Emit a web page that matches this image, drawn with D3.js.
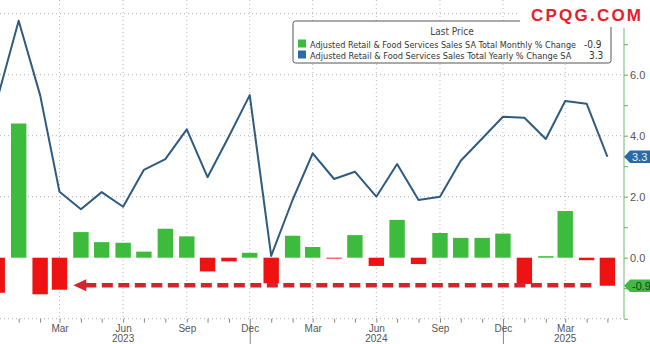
<!DOCTYPE html>
<html><head><meta charset="utf-8">
<script src="https://cdn.jsdelivr.net/npm/d3@7"></script>
<style>body{margin:0;background:#fff;} svg{display:block;font-family:"Liberation Sans",Arial,sans-serif;}</style>
</head><body><svg id="c" width="650" height="344"></svg>
<script>
// ---- data ----
const months = ["2022-12","2023-01","2023-02","2023-03","2023-04","2023-05","2023-06","2023-07","2023-08","2023-09","2023-10","2023-11","2023-12",
  "2024-01","2024-02","2024-03","2024-04","2024-05","2024-06","2024-07","2024-08","2024-09","2024-10","2024-11","2024-12",
  "2025-01","2025-02","2025-03","2025-04","2025-05"];
const monthlyChange = [-1.15,4.4,-1.2,-1.05,0.84,0.51,0.49,0.2,0.95,0.7,-0.45,-0.12,0.16,
  -0.84,0.72,0.35,-0.03,0.74,-0.27,1.24,-0.21,0.81,0.65,0.65,0.79,
  -0.86,0.05,1.53,-0.08,-0.92];
const yearlyChange = [5.2,7.77,5.33,2.16,1.59,2.15,1.67,2.88,3.23,4.21,2.64,3.98,5.33,
  0.06,1.9,3.42,2.58,2.82,2.0,3.07,1.89,2.0,3.18,3.91,4.62,
  4.59,3.89,5.14,5.05,3.31];
const seriesNames = ["Adjusted Retail & Food Services Sales SA Total Monthly % Change",
                     "Adjusted Retail & Food Services Sales Total Yearly % Change SA"];
const lastValues = ["-0.9","3.3"];
const yTickValues = [-2,0,2,4,6,8];
const yTickLabels = ["","0.0","2.0","4.0","6.0",""];
const yearLabels = [["2023-06","2023"],["2024-06","2024"],["2025-03","2025"]];
const arrow = {from:"2023-03-21", to:"2025-04-15", level:-0.9};

// ---- layout ----
const svg = d3.select("#c");
const W = 650, H = 344, plotR = 624, plotB = 318.7;
const parse = d3.timeParse("%Y-%m");
const parseD = d3.timeParse("%Y-%m-%d");
const dates = months.map(parse);
const x = d3.scaleTime().domain([new Date(2022,11,5), new Date(2025,4,25)]).range([0, plotR]);
const y = d3.scaleLinear().domain([-2, 8]).range([plotB, 13.7]);

const green = "#3dbb3d", red = "#ee1212", blue = "#2f5b7f";

svg.append("defs").append("clipPath").attr("id","clip")
  .append("rect").attr("x",0).attr("y",0).attr("width",plotR).attr("height",plotB);

// gridlines
const quarterTicks = x.ticks(d3.timeMonth.every(1)).filter(d => d.getMonth() % 3 === 2);
svg.append("g").selectAll("line").data(quarterTicks).join("line")
  .attr("x1", d => x(d)).attr("x2", d => x(d)).attr("y1", 0).attr("y2", plotB)
  .attr("stroke","#b8b8b8").attr("stroke-dasharray","1,3");
svg.append("g").selectAll("line").data(yTickValues.filter(v => v !== 0)).join("line")
  .attr("x1",0).attr("x2",plotR).attr("y1", d => y(d)).attr("y2", d => y(d))
  .attr("stroke","#b0b0b0").attr("stroke-dasharray","1,3");

// x axis
const xAxis = d3.axisBottom(x).ticks(d3.timeMonth.every(1)).tickSize(4)
  .tickFormat(d => d.getMonth() % 3 === 2 ? d3.timeFormat("%b")(d) : "");
const gx = svg.append("g").attr("transform", `translate(0,${plotB})`).call(xAxis);
gx.select(".domain").remove();
gx.selectAll(".tick line").attr("stroke","#888");
gx.selectAll(".tick text").attr("fill","#555").attr("font-size","10px").attr("dy","0.6em")
  .attr("font-family","Liberation Sans, Arial, sans-serif");
// year separators
gx.selectAll(".tick").filter(d => d.getMonth() === 11).select("line").attr("y2", H - plotB);
svg.append("g").selectAll("text").data(yearLabels).join("text")
  .attr("x", d => x(parse(d[0]))).attr("y", 342).attr("text-anchor","middle")
  .attr("font-size","10px").attr("fill","#555").text(d => d[1]);

// bars
const g = svg.append("g").attr("clip-path","url(#clip)");
const bw = 15.4;
g.selectAll("rect.bar").data(monthlyChange).join("rect").attr("class","bar")
  .attr("x", (d,i) => x(dates[i]) - bw/2).attr("width", bw)
  .attr("y", d => y(Math.max(0,d))).attr("height", d => Math.abs(y(d) - y(0)))
  .attr("fill", d => d >= 0 ? green : red);

// arrow annotation
const ay = y(arrow.level);
const ax0 = x(parseD(arrow.from)), ax1 = x(parseD(arrow.to));
g.append("line").attr("x1", ax0 + 12).attr("x2", ax1).attr("y1", ay).attr("y2", ay)
  .attr("stroke","#d3232b").attr("stroke-width",4.5).attr("stroke-dasharray","11,5.5");
g.append("path").attr("d", `M${ax0},${ay} L${ax0+13},${ay-6} L${ax0+13},${ay+6} Z`).attr("fill","#d3232b");

// line
g.append("path").datum(yearlyChange)
  .attr("d", d3.line().x((d,i) => x(dates[i])).y(d => y(d)))
  .attr("fill","none").attr("stroke", blue).attr("stroke-width",2).attr("stroke-linejoin","round");

// right axis
const yAxis = d3.axisRight(y).tickValues(d3.range(-2, 8.01, 1)).tickSize(4)
  .tickFormat(d => { const k = yTickValues.indexOf(d); return k >= 0 ? yTickLabels[k] : ""; });
const gy = svg.append("g").attr("transform", `translate(${plotR},0)`).call(yAxis);
gy.select(".domain").attr("stroke","#9fd19f").attr("stroke-width",1.5).attr("d", `M0,28V${plotB}`);
gy.selectAll(".tick line").attr("stroke","#6aa86a");
gy.selectAll(".tick").filter(d => d > 7).remove();
gy.selectAll(".tick text").attr("fill","#555").attr("font-size","11px").attr("x",6)
  .attr("font-family","Liberation Sans, Arial, sans-serif");

// right tags
function tag(v, label, fill, txt) {
  const cy = y(v), h = 12.6;
  svg.append("path").attr("d", `M${plotR},${cy} L${plotR+6},${cy-h/2} H${W} V${cy+h/2} H${plotR+6} Z`).attr("fill", fill);
  svg.append("text").attr("x", plotR+8).attr("y", cy+4).attr("font-size","11px").attr("fill", txt).text(label);
}
tag(yearlyChange[yearlyChange.length-1], yearlyChange[yearlyChange.length-1].toFixed(1), "#2c6aa5", "#e8f0f8");
tag(monthlyChange[monthlyChange.length-1], monthlyChange[monthlyChange.length-1].toFixed(1), "#44b844", "#1a3a1a");

// legend
const lg = svg.append("g");
const legFont = "'DejaVu Sans Condensed', 'Liberation Sans Narrow', 'Liberation Sans', Arial, sans-serif";
lg.append("rect").attr("x",293).attr("y",21).attr("width",318).attr("height",42).attr("rx",2.5)
  .attr("fill","#fff").attr("stroke","#555").attr("stroke-width",1);
lg.append("text").attr("x",452).attr("y",35).attr("text-anchor","middle").attr("font-size","10px")
  .attr("font-family",legFont).attr("fill","#444").text("Last Price");
const colors = [green, "#2c6aa5"];
seriesNames.forEach((n,i) => {
  const yy = 44 + i*11;
  lg.append("rect").attr("x",298).attr("y",yy-4.5).attr("width",8).attr("height",8).attr("fill",colors[i]);
  const t = lg.append("text").attr("x",310).attr("y",yy+3.5).attr("font-size","10px")
    .attr("font-family",legFont).attr("fill","#333").text(n);
  const target = i === 0 ? 266 : 262;
  const w = t.node().getComputedTextLength();
  t.attr("font-size", Math.min(10.5, 10*target/w).toFixed(2) + "px");
  lg.append("text").attr("x", i === 0 ? 584 : 589).attr("y",yy+3.5).attr("font-size","10px")
    .attr("font-family",legFont).attr("fill","#333").text(lastValues[i]);
});

// watermark
svg.append("rect").attr("x",520).attr("y",0).attr("width",130).attr("height",27).attr("fill","#fff");
svg.append("text").attr("x",531).attr("y",21).attr("font-size","17px").attr("font-weight","bold")
  .attr("fill","#e5202c").attr("textLength",110).attr("lengthAdjust","spacing").text("CPQG.COM");
</script></body></html>
